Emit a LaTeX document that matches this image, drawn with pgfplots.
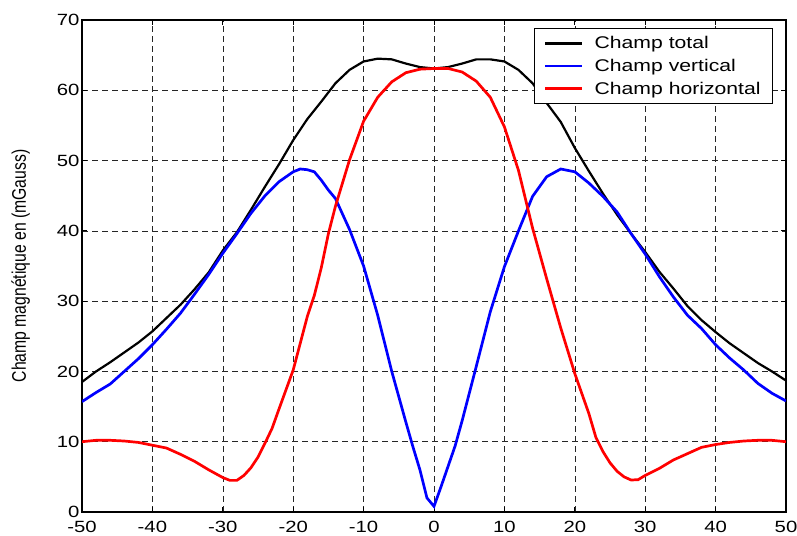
\documentclass[border=0pt]{standalone}
\usepackage{fontspec}
\setmainfont[FakeStretch=1.25]{Liberation Sans}
\newfontfamily\ylabfont{Liberation Sans}
\usepackage{graphicx}
\usepackage{pgfplots}
\usepackage{pgfplotstable}
\pgfplotsset{compat=1.18}

\pgfplotstableread{
x y
-50 18.5
-48 20.0
-46 21.3
-44 22.7
-42 24.1
-40 25.7
-38 27.6
-36 29.5
-34 31.7
-32 34.1
-30 37.2
-28 39.8
-26 43.0
-24 46.3
-22 49.5
-20 52.9
-18 55.9
-16 58.4
-14 61.0
-12 62.9
-10 64.1
-8 64.5
-6 64.4
-4 63.8
-2 63.3
0 63.1
2 63.3
4 63.8
6 64.4
8 64.4
10 64.1
12 62.9
14 61.0
16 58.2
18 55.5
20 51.8
22 48.5
24 45.3
26 42.3
28 39.6
30 37.0
32 34.2
34 31.8
36 29.3
38 27.3
40 25.6
42 24.0
44 22.6
46 21.2
48 20.0
50 18.7
}\total

\pgfplotstableread{
x y
-50 15.7
-48 17.0
-46 18.2
-44 20.0
-42 21.8
-40 23.8
-38 26.0
-36 28.3
-34 31.0
-32 33.8
-30 36.8
-28 39.6
-26 42.5
-24 45.0
-22 47.0
-20 48.4
-19 48.8
-18 48.7
-17 48.4
-16 47.2
-15 45.8
-14 44.6
-12 40.2
-10 35.0
-8 28.0
-6 20.0
-4 12.8
-3 9.3
-2 6.0
-1 2.0
0 0.8
1 3.6
2 6.5
3 9.4
4 13.0
6 20.7
8 28.5
10 34.9
12 40.0
14 44.9
16 47.7
18 48.8
20 48.4
22 46.8
24 44.9
26 42.7
28 39.6
30 36.7
32 33.5
34 30.6
36 28.0
38 26.1
40 23.8
42 21.9
44 20.2
46 18.3
48 16.9
50 15.8
}\vertical

\pgfplotstableread{
x y
-50 10.0
-48 10.2
-46 10.2
-44 10.1
-42 9.9
-40 9.5
-38 9.1
-36 8.2
-34 7.2
-32 6.0
-30 4.9
-29 4.5
-28 4.5
-27 5.2
-26 6.3
-25 7.8
-24 9.8
-23 11.9
-22 14.7
-20 20.2
-18 27.8
-17 30.8
-16 34.8
-15 39.6
-14 43.5
-12 50.1
-10 55.6
-8 59.0
-6 61.2
-4 62.5
-2 63.0
0 63.1
2 63.1
4 62.6
6 61.3
8 59.0
10 54.8
12 48.6
14 40.4
16 33.2
18 26.2
20 19.7
22 14.0
23 10.6
24 8.6
25 7.0
26 5.8
27 5.0
28 4.55
29 4.6
30 5.2
32 6.2
34 7.4
36 8.3
38 9.2
40 9.6
42 9.9
44 10.1
46 10.2
48 10.2
50 10.0
}\horizontal

\begin{document}
\begin{tikzpicture}
\path[use as bounding box] (0,0) rectangle (797bp,536bp);
\begin{axis}[
  at={(82bp,24bp)}, anchor=south west,
  width=704bp, height=492bp, scale only axis,
  xmin=-50, xmax=50, ymin=0, ymax=70,
  xtick={-50,-40,...,50}, ytick={0,10,...,70},
  tick align=inside, xtick pos=both, ytick pos=both,
  xticklabel pos=lower, yticklabel pos=left,
  major tick length=5bp,
  every tick/.style={black, line width=0.8bp},
  axis line style={black, line width=1.5bp},
  grid=major,
  major grid style={black!85, line width=0.6bp, dash pattern=on 6bp off 4bp},
  /pgf/number format/assume math mode=true,
  ticklabel style={font=\fontsize{16.3}{18}\selectfont},
  yticklabel style={xshift=1bp},
  xticklabel style={yshift=-6bp},
  ylabel={\scalebox{1}[1.25]{\ylabfont\fontsize{15.8}{18}\selectfont Champ magnétique en (mGauss)}},
  ylabel style={at={(axis description cs:-0.087,0.5)}, anchor=center},
  legend style={at={(rel axis cs:0.9815,0.9837)}, anchor=north east,
    draw=black, line width=0.8bp, fill=white,
    font=\fontsize{17}{20}\selectfont, inner xsep=10bp, inner ysep=6bp,
    row sep=5bp,
    /tikz/every odd column/.append style={column sep=9bp}},
  legend cell align=left,
  legend image code/.code={\draw[#1, line width=2.6bp] (0bp,0bp) -- (37bp,0bp);},
]
\addplot[black, line width=2.2bp] table {\total};
\addplot[blue, line width=2.7bp] table {\vertical};
\addplot[red, line width=2.7bp] table {\horizontal};
\legend{Champ total, Champ vertical, Champ horizontal}
\end{axis}
\end{tikzpicture}
\end{document}
